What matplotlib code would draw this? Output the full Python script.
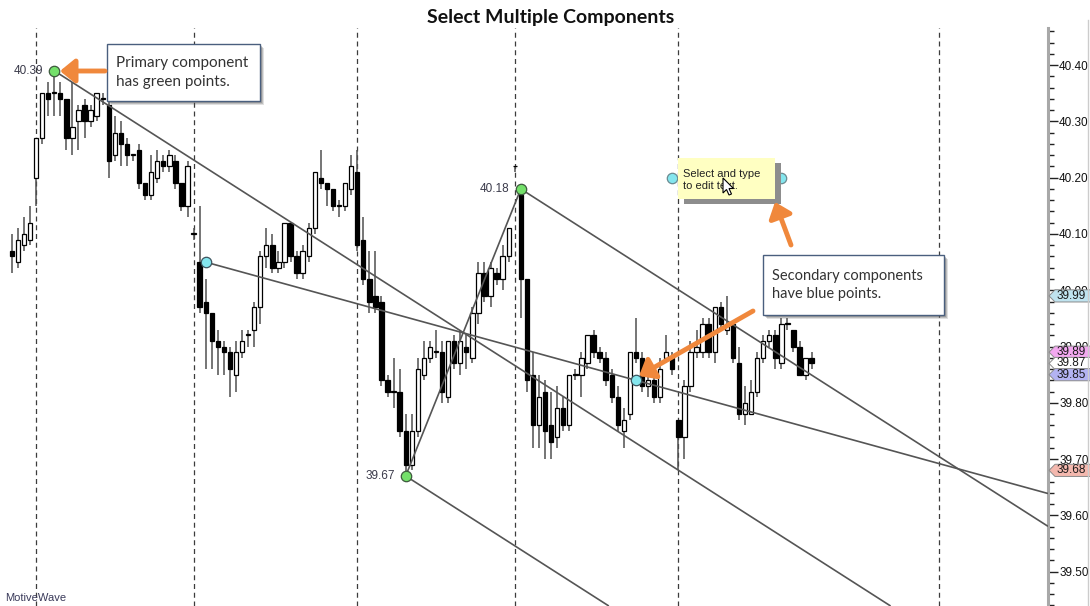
import matplotlib
matplotlib.use("Agg")
import matplotlib.pyplot as plt
import matplotlib.transforms as mtransforms
from matplotlib.patches import Rectangle, Polygon, FancyArrowPatch
from matplotlib.ticker import MultipleLocator, FixedLocator
import numpy as np

# ---- price bars (one per bar index) ----
opens = [40.07, 40.05, 40.08, 40.09, 40.20, 40.27, 40.35, 40.35, 40.35, 40.34,
         40.27, 40.30, 40.33, 40.30, 40.31, 40.34, 40.33, 40.24, 40.28, 40.26,
         40.24, 40.25, 40.19, 40.17, 40.20, 40.23, 40.22, 40.23, 40.19, 40.15,
         40.10, 40.05, 39.98, 39.96, 39.91, 39.90, 39.89, 39.85, 39.89, 39.92,
         39.93, 39.97, 40.06, 40.08, 40.04, 40.05, 40.12, 40.06, 40.03, 40.06,
         40.11, 40.20, 40.19, 40.18, 40.15, 40.15, 40.18, 40.21, 40.09, 40.02,
         39.99, 39.98, 39.84, 39.82, 39.82, 39.75, 39.69, 39.75, 39.85, 39.88,
         39.89, 39.89, 39.81, 39.91, 39.87, 39.90, 39.88, 39.96, 40.03, 39.99,
         40.03, 40.02, 40.06, 40.22, 40.17, 40.02, 39.85, 39.76, 39.82, 39.76,
         39.74, 39.79, 39.76, 39.85, 39.85, 39.87, 39.92, 39.89, 39.88, 39.85,
         39.81, 39.75, 39.78, 39.89, 39.88, 39.83, 39.84, 39.81, 39.88, 39.88,
         39.77, 39.74, 39.83, 39.89, 39.89, 39.94, 39.89, 39.97, 39.93, 39.94,
         39.87, 39.78, 39.78, 39.82, 39.88, 39.91, 39.92, 39.87, 39.94, 39.93,
         39.90, 39.85, 39.88]
highs = [40.10, 40.11, 40.13, 40.15, 40.27, 40.35, 40.37, 40.39, 40.37, 40.34,
         40.37, 40.33, 40.34, 40.33, 40.35, 40.35, 40.34, 40.31, 40.30, 40.27,
         40.24, 40.26, 40.19, 40.24, 40.25, 40.24, 40.25, 40.24, 40.19, 40.23,
         40.11, 40.15, 40.02, 39.96, 39.93, 39.91, 39.90, 39.91, 39.93, 39.93,
         39.98, 40.07, 40.11, 40.10, 40.07, 40.12, 40.12, 40.07, 40.08, 40.12,
         40.21, 40.25, 40.19, 40.18, 40.16, 40.19, 40.24, 40.25, 40.13, 40.07,
         40.07, 39.99, 39.85, 39.88, 39.86, 39.78, 39.78, 39.88, 39.91, 39.91,
         39.93, 39.91, 39.91, 39.92, 39.93, 39.92, 39.97, 40.05, 40.05, 40.05,
         40.04, 40.08, 40.11, 40.22, 40.18, 40.02, 39.89, 39.85, 39.84, 39.82,
         39.83, 39.81, 39.85, 39.86, 39.89, 39.92, 39.93, 39.90, 39.89, 39.86,
         39.83, 39.79, 39.89, 39.95, 39.89, 39.85, 39.86, 39.88, 39.92, 39.89,
         39.77, 39.84, 39.91, 39.93, 39.95, 39.95, 39.97, 39.98, 39.99, 39.94,
         39.90, 39.83, 39.84, 39.89, 39.92, 39.93, 39.93, 39.95, 39.95, 39.93,
         39.91, 39.88, 39.89]
lows = [40.03, 40.04, 40.07, 40.08, 40.15, 40.26, 40.31, 40.31, 40.31, 40.25,
        40.24, 40.25, 40.27, 40.29, 40.30, 40.33, 40.20, 40.23, 40.22, 40.22,
        40.23, 40.18, 40.16, 40.16, 40.19, 40.21, 40.21, 40.18, 40.14, 40.13,
        40.09, 39.96, 39.86, 39.86, 39.85, 39.85, 39.81, 39.82, 39.88, 39.90,
        39.90, 39.94, 40.04, 40.03, 40.03, 40.04, 40.05, 40.02, 40.02, 40.05,
        40.10, 40.18, 40.15, 40.14, 40.13, 40.14, 40.17, 40.07, 40.01, 39.96,
        39.96, 39.83, 39.81, 39.79, 39.74, 39.67, 39.68, 39.74, 39.84, 39.87,
        39.88, 39.80, 39.80, 39.86, 39.85, 39.86, 39.87, 39.94, 39.98, 39.97,
        40.01, 40.00, 40.05, 40.21, 39.95, 39.82, 39.72, 39.72, 39.70, 39.70,
        39.72, 39.75, 39.75, 39.84, 39.81, 39.86, 39.88, 39.87, 39.83, 39.80,
        39.75, 39.72, 39.77, 39.87, 39.82, 39.81, 39.80, 39.80, 39.87, 39.85,
        39.68, 39.70, 39.82, 39.88, 39.88, 39.88, 39.87, 39.93, 39.92, 39.87,
        39.77, 39.76, 39.78, 39.81, 39.87, 39.90, 39.86, 39.86, 39.93, 39.89,
        39.85, 39.84, 39.86]
closes = [40.06, 40.09, 40.10, 40.12, 40.27, 40.35, 40.34, 40.35, 40.34, 40.27,
          40.29, 40.32, 40.30, 40.32, 40.35, 40.34, 40.23, 40.28, 40.26, 40.24,
          40.24, 40.19, 40.17, 40.21, 40.23, 40.22, 40.24, 40.19, 40.15, 40.22,
          40.10, 39.97, 39.96, 39.91, 39.90, 39.89, 39.86, 39.89, 39.91, 39.92,
          39.97, 40.06, 40.08, 40.04, 40.05, 40.12, 40.06, 40.03, 40.07, 40.11,
          40.21, 40.19, 40.18, 40.15, 40.15, 40.19, 40.22, 40.08, 40.02, 39.98,
          39.97, 39.84, 39.82, 39.82, 39.75, 39.69, 39.75, 39.86, 39.88, 39.90,
          39.89, 39.82, 39.91, 39.87, 39.91, 39.89, 39.96, 40.03, 39.99, 40.04,
          40.02, 40.06, 40.11, 40.22, 40.02, 39.84, 39.76, 39.81, 39.75, 39.73,
          39.79, 39.76, 39.85, 39.85, 39.88, 39.92, 39.89, 39.88, 39.84, 39.81,
          39.76, 39.77, 39.89, 39.88, 39.83, 39.84, 39.81, 39.86, 39.89, 39.86,
          39.74, 39.83, 39.89, 39.90, 39.94, 39.89, 39.97, 39.94, 39.94, 39.88,
          39.78, 39.80, 39.82, 39.88, 39.91, 39.92, 39.88, 39.94, 39.94, 39.90,
          39.85, 39.88, 39.87]

# session separators (bar index)
session_breaks = [4, 30, 57, 83, 110, 153]

# primary component: three anchor points of a parallel channel
primary_idx = [7, 84, 65]
primary_price = [40.39, 40.18, 39.67]
channel_slope = -0.00689          # price per bar of the parallel rails

# secondary component: trend line through two points
secondary_idx = [32, 103]
secondary_price = [40.05, 39.84]

# text note anchors
note_idx = [109, 127]
note_price = [40.20, 40.20]

# right-axis price tags
tag_values = [39.99, 39.89, 39.87, 39.85, 39.68]
tag_colors = ["#bfe3ef", "#f3a8f0", "#ffffff", "#b3b3f2", "#f4b8ae"]

tick_values = [39.50, 39.60, 39.70, 39.80, 39.90, 40.00, 40.10, 40.20, 40.30, 40.40]

W, H = 1090, 606
X_MIN, X_MAX = -1.95, 171.0
Y_MIN, Y_MAX = 39.439, 40.466

fig = plt.figure(figsize=(W / 100, H / 100), dpi=100)
fig.patch.set_facecolor("white")
ax = fig.add_axes([0, 0, 1048 / W, (H - 28) / H])
ax.set_xlim(X_MIN, X_MAX)
ax.set_ylim(Y_MIN, Y_MAX)


def fpx(x, y):
    """pixel position -> figure fraction"""
    return x / W, 1 - y / H


# session separators
for b in session_breaks:
    ax.axvline(b, color="#3c3c3c", lw=0.9, ls=(0, (4, 3)), zorder=1)

# candlesticks
idx = np.arange(len(opens))
o = np.array(opens); h = np.array(highs); l = np.array(lows); c = np.array(closes)
ax.vlines(idx, l, h, color="#505050", lw=1.1, zorder=2)
up = c >= o
body_w = 0.72
bottoms = np.minimum(o, c)
heights = np.maximum(np.abs(c - o), 0.0015)
ax.bar(idx[up], heights[up], bottom=bottoms[up], width=body_w,
       color="white", edgecolor="black", lw=0.9, zorder=3)
ax.bar(idx[~up], heights[~up], bottom=bottoms[~up], width=body_w,
       color="black", edgecolor="black", lw=0.9, zorder=3)

line_kw = dict(color="#555555", lw=1.2, zorder=4, solid_capstyle="butt")

# primary channel: segment between the low and the high anchor, and rails
ax.plot([primary_idx[2], primary_idx[1]], [primary_price[2], primary_price[1]], **line_kw)
for i0, p0 in zip(primary_idx, primary_price):
    xe = X_MAX
    ye = p0 + channel_slope * (xe - i0)
    if ye < Y_MIN:
        xe = i0 + (Y_MIN - p0) / channel_slope
        ye = Y_MIN
    ax.plot([i0, xe], [p0, ye], **line_kw)

# secondary trend line, extended to the right
s_slope = (secondary_price[1] - secondary_price[0]) / (secondary_idx[1] - secondary_idx[0])
ax.plot([secondary_idx[0], X_MAX],
        [secondary_price[0], secondary_price[0] + s_slope * (X_MAX - secondary_idx[0])], **line_kw)

# anchor points
ax.plot(primary_idx, primary_price, "o", ms=7.5, mfc="#74e06a", mec="#3d5a3d", mew=0.9,
        zorder=8, ls="none")
ax.plot(secondary_idx, secondary_price, "o", ms=7.5, mfc="#84e6ee", mec="#3d5560", mew=0.9,
        zorder=8, ls="none")
ax.plot(note_idx, note_price, "o", ms=7.5, mfc="#84e6ee", mec="#6a8a90", mew=0.9,
        zorder=8, ls="none")

for i0, p0 in zip(primary_idx, primary_price):
    ax.annotate(f"{p0:.2f}", (i0, p0), xytext=(-8, 0), textcoords="offset points",
                ha="right", va="center", fontsize=8.5, color="#3a3a4a",
                family="Liberation Sans", zorder=9)

# right price axis
for s in ["top", "left", "bottom"]:
    ax.spines[s].set_visible(False)
ax.spines["right"].set_color("#a8a8a8")
ax.spines["right"].set_linewidth(2.2)
ax.set_xticks([])
ax.yaxis.tick_right()
ax.yaxis.set_major_locator(FixedLocator(tick_values))
ax.yaxis.set_minor_locator(MultipleLocator(0.02))
ax.set_yticklabels([f"{v:.2f}" for v in tick_values])
ax.tick_params(axis="y", which="major", length=7, width=1, color="#222222",
               labelsize=8.5, labelcolor="#111111", pad=1)
ax.tick_params(axis="y", which="minor", length=4, width=1, color="#222222")
for lab in ax.get_yticklabels():
    lab.set_family("Liberation Sans")

# price tags on the axis
tag_tr = mtransforms.blended_transform_factory(ax.transAxes, ax.transData)
x0 = 1.0
x1 = 1055 / 1048
x2 = 1092 / 1048
hh = 0.0108
for v, col in zip(tag_values, tag_colors):
    poly = Polygon([(x0 + 0.001, v), (x1, v + hh), (x2, v + hh), (x2, v - hh), (x1, v - hh)],
                   closed=True, transform=tag_tr, facecolor=col, edgecolor="#8a8a8a",
                   lw=0.7, clip_on=False, zorder=10)
    ax.add_patch(poly)
    ax.text(1057 / 1048, v, f"{v:.2f}", transform=tag_tr, ha="left", va="center",
            fontsize=8.5, color="#1a1a1a", family="Liberation Sans", zorder=11, clip_on=False)

# title and footer
fig.text(*fpx(551, 17), "Select Multiple Components", ha="center", va="center",
         fontsize=14, fontweight="bold", family="Lato", color="#111111")
fig.text(*fpx(5, 598), "MotiveWave", ha="left", va="center", fontsize=8,
         family="Liberation Sans", color="#3a3a5a")

# right frame line
fig.add_artist(plt.Line2D([1088 / W, 1088 / W], [0, 1 - 20 / H], transform=fig.transFigure,
                          color="#cccccc", lw=1))


def callout(x, y, w, h, text, size):
    for k, a in [(4, 0.18), (3, 0.25), (2, 0.3)]:
        fig.add_artist(Rectangle(fpx(x + k, y + h + k), w / W, h / H, transform=fig.transFigure,
                                 facecolor="#555555", edgecolor="none", alpha=a, zorder=20))
    fig.add_artist(Rectangle(fpx(x, y + h), w / W, h / H, transform=fig.transFigure,
                             facecolor="white", edgecolor="#4a5f7e", lw=1.0, zorder=21))
    fig.text(*fpx(x + 9, y + h / 2), text, ha="left", va="center", fontsize=size,
             family="Lato", color="#333333", linespacing=1.45, zorder=22)


callout(107, 44, 153, 57, "Primary component\nhas green points.", 11)
callout(763, 255, 181, 60, "Secondary components\nhave blue points.", 10.5)

# text note with drop shadow
fig.add_artist(Rectangle(fpx(684, 204), 97 / W, 41 / H, transform=fig.transFigure,
                         facecolor="#8d8d8d", edgecolor="none", zorder=20))
fig.add_artist(Rectangle(fpx(678, 199), 97 / W, 41 / H, transform=fig.transFigure,
                         facecolor="#ffffc2", edgecolor="none", zorder=21))
fig.text(*fpx(683, 180), "Select and type\nto edit text.", ha="left", va="center",
         fontsize=8, family="Liberation Sans", color="#222222", linespacing=1.2, zorder=22)

# mouse pointer over the note
cur = np.array([(0, 0), (0, 15), (3.5, 11.5), (6, 17), (8.5, 16), (6, 10.5), (10.5, 10.5)])
cur_px = [fpx(723 + dx, 178 + dy) for dx, dy in cur]
fig.add_artist(Polygon(cur_px, closed=True, transform=fig.transFigure, facecolor="white",
                       edgecolor="black", lw=0.8, zorder=23))

# orange pointers
arrow_kw = dict(arrowstyle="-|>,head_length=0.55,head_width=0.45", color="#f0883c", lw=3.5,
                shrinkA=0, shrinkB=0, mutation_scale=16)
fig.add_artist(FancyArrowPatch(fpx(105, 71), fpx(60, 71),
               transform=fig.transFigure, zorder=25, **arrow_kw))
fig.add_artist(FancyArrowPatch(fpx(791, 245), fpx(775, 202),
               transform=fig.transFigure, zorder=25, **arrow_kw))
fig.add_artist(FancyArrowPatch(fpx(753, 311), fpx(639, 376),
               transform=fig.transFigure, zorder=25, **arrow_kw))

fig.savefig("out.png", dpi=100)
